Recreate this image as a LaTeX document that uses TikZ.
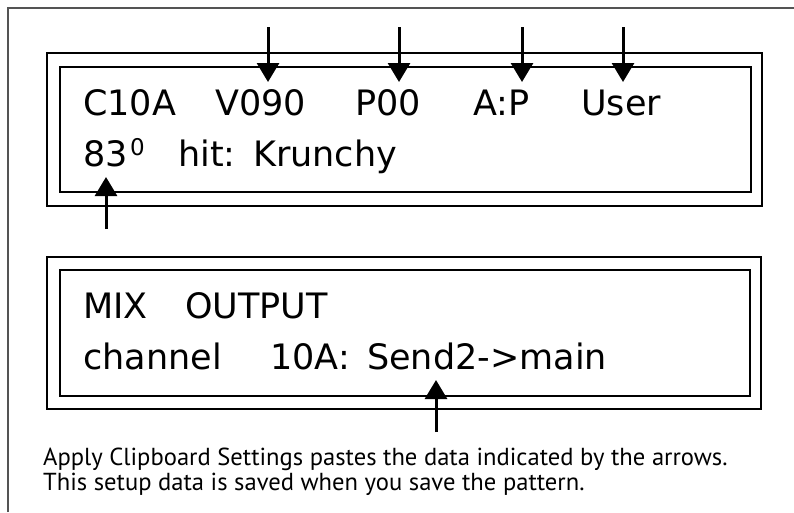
\documentclass[tikz,border=0pt]{standalone}
\usepackage{fontspec}
\setmainfont{DejaVu Sans}
\newfontfamily\capfont{PT Sans}
\usetikzlibrary{arrows.meta}
\tikzset{
  frameline/.style={draw=black!67, line width=1.5pt},
  lcdbox/.style={draw=black, line width=2.6pt},
  lcd/.style={anchor=base west, inner sep=0pt, font=\fontsize{35}{35}\selectfont},
  lcdsup/.style={anchor=base west, inner sep=0pt, font=\fontsize{23}{23}\selectfont},
  caption/.style={anchor=base west, inner sep=0pt, font=\capfont\fontsize{24.6}{24.6}\selectfont},
  pointer/.style={draw=black, line width=3pt, -{Triangle[width=22pt,length=19pt]}}
}
\begin{document}
\begin{tikzpicture}[x=1pt,y=-1pt]
\useasboundingbox (0,0) rectangle (794,512);
\fill[white] (0,0) rectangle (794,512);
% outer frame (top and left visible)
\draw[frameline] (8,512) -- (8,8) -- (794,8);
% top display
\draw[lcdbox] (47,53) rectangle (762,206);
\draw[lcdbox] (60,67) rectangle (751,192);
% bottom display
\draw[lcdbox] (47,257) rectangle (761,409);
\draw[lcdbox] (60,270) rectangle (750,396);
% top display texts
\node[lcd] (c10a) at (83,115) {C10A};
\node[lcd] (v090) at (215,115) {V090};
\node[lcd] (p00) at (355,115) {P00};
\node[lcd] (ap) at (473,115) {A:P};
\node[lcd] (user) at (581,115) {User};
\node[lcd] (e83) at (83,166) {83};
\node[lcdsup] (sup) at (130,155) {0};
\node[lcd] (hit) at (178,166) {hit:};
\node[lcd] (krunchy) at (253,166) {Krunchy};
% bottom display texts
\node[lcd] (mix) at (83,318) {MIX};
\node[lcd] (output) at (185,318) {OUTPUT};
\node[lcd] (channel) at (83,369) {channel};
\node[lcd] (ten) at (270,369) {10A:};
\node[lcd] (send) at (367,369) {Send2->main};
% caption
\node[caption] (cap1) at (43,465) {Apply Clipboard Settings pastes the data indicated by the arrows.};
\node[caption] (cap2) at (43,490) {This setup data is saved when you save the pattern.};
% arrows
\coordinate (t1) at (268,27); \coordinate (h1) at (268,82);
\coordinate (t2) at (399,27); \coordinate (h2) at (399,82);
\coordinate (t3) at (522,27); \coordinate (h3) at (522,82);
\coordinate (t4) at (623,27); \coordinate (h4) at (623,82);
\coordinate (t5) at (106,229); \coordinate (h5) at (106,177);
\coordinate (t6) at (436,432); \coordinate (h6) at (436,380);
\draw[pointer] (t1) -- (h1);
\draw[pointer] (t2) -- (h2);
\draw[pointer] (t3) -- (h3);
\draw[pointer] (t4) -- (h4);
\draw[pointer] (t5) -- (h5);
\draw[pointer] (t6) -- (h6);
\end{tikzpicture}
\end{document}
